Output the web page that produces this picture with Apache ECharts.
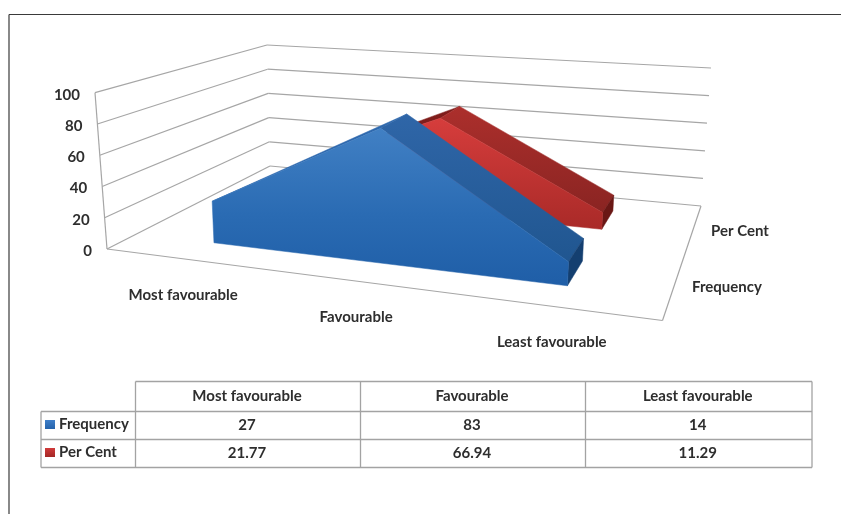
<!DOCTYPE html>
<html>
<head>
<meta charset="utf-8">
<style>html,body{margin:0;padding:0;background:#fff}#chart{width:841px;height:514px}</style>
<script src="https://cdn.jsdelivr.net/npm/echarts@6/dist/echarts.min.js"></script>
</head>
<body>
<div id="chart"></div>
<script>
const categories = ['Most favourable', 'Favourable', 'Least favourable'];
const frequency = [27, 83, 14];
const perCent = [21.77, 66.94, 11.29];
const frequencyLabels = ['27', '83', '14'];
const perCentLabels = ['21.77', '66.94', '11.29'];
const valueTicks = [0, 20, 40, 60, 80, 100];
const FONT = '"Lato","Open Sans",sans-serif';
const TEXT = '#2e2e2e';
const TEXT_FONT = 'bold 15px ' + FONT;

// Box corners on screen: floor plane (value 0) and ceiling plane (value 100).
const floorQuad = [[107, 249], [662.5, 320.5], [701, 206], [270, 166]];
const ceilQuad = [[95, 92.7], [674.5, 134], [711, 68], [267, 45]];

// Unit square -> quadrilateral homography.
function homography(q) {
  const [[x0, y0], [x1, y1], [x2, y2], [x3, y3]] = q;
  const dx1 = x1 - x2, dx2 = x3 - x2, sx = x0 - x1 + x2 - x3;
  const dy1 = y1 - y2, dy2 = y3 - y2, sy = y0 - y1 + y2 - y3;
  const den = dx1 * dy2 - dx2 * dy1;
  const g = (sx * dy2 - dx2 * sy) / den;
  const h = (dx1 * sy - sx * dy1) / den;
  const a = x1 - x0 + g * x1, b = x3 - x0 + h * x3;
  const d = y1 - y0 + g * y1, e = y3 - y0 + h * y3;
  return (u, v) => {
    const w = g * u + h * v + 1;
    return [(a * u + b * v + x0) / w, (d * u + e * v + y0) / w];
  };
}
const onFloor = homography(floorQuad);
const onCeil = homography(ceilQuad);

// u: along categories, v: depth, t: value as a share of the axis range.
function project(u, v, t) {
  const p = onFloor(u, v), q = onCeil(u, v);
  return [p[0] + (q[0] - p[0]) * t, p[1] + (q[1] - p[1]) * t];
}
// Converts a point of the hidden grid into unit coordinates.
function toUnit(pt, cs) {
  return [(pt[0] - cs.x) / cs.width, (cs.y + cs.height - pt[1]) / cs.height];
}
const vGrad = (stops) => new echarts.graphic.LinearGradient(0, 0, 0, 1,
  stops.map(([offset, color]) => ({ offset, color })));
const poly = (points, fill, z2) => ({
  type: 'polygon', z2, shape: { points },
  style: { fill, stroke: fill, lineWidth: 0.5 }
});
const line = (a, b) => ({
  type: 'line', z2: 1,
  shape: { x1: a[0], y1: a[1], x2: b[0], y2: b[1] },
  style: { stroke: '#a6a6a6', lineWidth: 1.2 }
});
const label = (text, x, y, align) => ({
  type: 'text', z2: 2,
  style: { text, x, y, align, verticalAlign: 'middle', fill: TEXT, font: TEXT_FONT }
});

// Draws one extruded area band between depths v0 and v1.
function areaRenderer(values, v0, v1, look) {
  return function (params, api) {
    if (params.dataIndex !== values.length - 1) return { type: 'group', children: [] };
    const cs = params.coordSys;
    const pts = values.map((val, i) => toUnit(api.coord([i, val]), cs));
    const base = toUnit(api.coord([0, 0]), cs)[1];
    const front = pts.map(([u, t]) => project(u, v0, t));
    const back = pts.map(([u, t]) => project(u, v1, t));
    const first = pts[0], last = pts[pts.length - 1];
    const children = [];
    // sloped top: the rising side only shows as a sliver behind the front face
    for (let i = 0; i < pts.length - 1; i++) {
      if (values[i + 1] > values[i]) {
        children.push(poly([front[i], front[i + 1], back[i + 1]], look.rise, 3));
      } else {
        children.push(poly([front[i], front[i + 1], back[i + 1], back[i]], look.fall, 4));
      }
    }
    // end cap
    children.push(poly([front[front.length - 1], back[back.length - 1],
      project(last[0], v1, base), project(last[0], v0, base)], look.cap, 5));
    // front silhouette
    children.push(poly(front.concat([project(last[0], v0, base), project(first[0], v0, base)]),
      look.front, 6));
    return { type: 'group', children };
  };
}

// Walls, floor and every label that sits on them.
function frameRenderer(params, api) {
  if (params.dataIndex !== valueTicks.length - 1) return { type: 'group', children: [] };
  const cs = params.coordSys;
  const children = [];
  valueTicks.forEach((tick) => {
    const t = toUnit(api.coord([0, tick]), cs)[1];
    const a = project(0, 0, t), b = project(0, 1, t), c = project(1, 1, t);
    children.push(line(a, b), line(b, c));
    children.push(label(String(tick), a[0] - 15, a[1] + 2, 'right'));
  });
  const zero = toUnit(api.coord([0, 0]), cs)[1];
  const top = toUnit(api.coord([0, 100]), cs)[1];
  children.push(line(project(0, 0, zero), project(0, 0, top)));
  children.push(line(project(0, 0, zero), project(1, 0, zero)));
  children.push(line(project(1, 0, zero), project(1, 1, zero)));
  categories.forEach((name, i) => {
    const u = toUnit(api.coord([i, 0]), cs)[0];
    const p = project(u, 0, zero);
    children.push(label(name, p[0] - 3, p[1] + 35.5, 'center'));
  });
  [['Frequency', 0.25], ['Per Cent', 0.75]].forEach(([name, v]) => {
    const p = project(1, v, zero);
    children.push(label(name, p[0] + 17.5, p[1] + 2.5, 'left'));
  });
  return { type: 'group', children };
}

// Data table under the plot, with legend keys in its first column.
const colX = [135.5, 360.5, 585.5, 812];
const rowY = [381.5, 411.5, 439.5, 467.5];
const keyX = 41;
const tableLine = (x1, y1, x2, y2) => ({
  type: 'line', shape: { x1, y1, x2, y2 },
  style: { stroke: '#a3a3a3', lineWidth: 1.3 }
});
const cell = (text, x, y, align) => ({
  type: 'text',
  style: { text, x, y, align: align || 'center', verticalAlign: 'middle', fill: TEXT, font: TEXT_FONT }
});
const key = (y, c0, c1) => ({
  type: 'rect', shape: { x: 45, y, width: 10, height: 9 },
  style: { fill: vGrad([[0, c0], [1, c1]]) }
});
const cx = (i) => (colX[i] + colX[i + 1]) / 2;
const rowMid = (r) => (rowY[r] + rowY[r + 1]) / 2;
const tableElements = [
  { type: 'line', shape: { x1: 9, y1: 14.5, x2: 841, y2: 14.5 }, style: { stroke: '#3a3a3a', lineWidth: 1.2 } },
  { type: 'line', shape: { x1: 9, y1: 14.5, x2: 9, y2: 514 }, style: { stroke: '#3a3a3a', lineWidth: 1.2 } },
  tableLine(colX[0], rowY[0], colX[3], rowY[0]),
  tableLine(keyX, rowY[1], colX[3], rowY[1]),
  tableLine(keyX, rowY[2], colX[3], rowY[2]),
  tableLine(keyX, rowY[3], colX[3], rowY[3]),
  tableLine(keyX, rowY[1], keyX, rowY[3]),
  ...colX.map((x) => tableLine(x, rowY[0], x, rowY[3])),
  ...categories.map((c, i) => cell(c, cx(i) - 1, rowMid(0))),
  ...frequencyLabels.map((c, i) => cell(c, cx(i) - 1, rowMid(1))),
  ...perCentLabels.map((c, i) => cell(c, cx(i) - 1, rowMid(2))),
  key(420, '#3f7fc9', '#2563ab'),
  key(448, '#d03a3a', '#a32725'),
  cell('Frequency', 59, rowMid(1) - 1, 'left'),
  cell('Per Cent', 59, rowMid(2) - 1, 'left')
];

const blueLook = {
  front: vGrad([[0, '#4180c4'], [0.55, '#2a6bb3'], [1, '#1f5ea7']]),
  rise: '#2f69ae', fall: vGrad([[0, '#2f66a8'], [1, '#205690']]), cap: '#143f70'
};
const redLook = {
  front: vGrad([[0, '#d63d3c'], [1, '#a92a28']]),
  rise: '#7f1d1b', fall: vGrad([[0, '#ac2f2c'], [1, '#8a2422']]), cap: '#6a1715'
};

const chart = echarts.init(document.getElementById('chart'), null, { renderer: 'canvas' });
chart.setOption({
  backgroundColor: '#ffffff',
  animation: false,
  grid: { left: 0, right: 0, top: 0, bottom: 0 },
  xAxis: { type: 'category', data: categories, show: false },
  yAxis: { type: 'value', min: 0, max: 100, interval: 20, show: false },
  graphic: tableElements,
  series: [
    { type: 'custom', name: 'Axes', z: 1, silent: true,
      data: valueTicks.map((t) => [0, t]), renderItem: frameRenderer },
    { type: 'custom', name: 'Per Cent', z: 2, silent: true,
      data: perCent.map((v, i) => [i, v]), renderItem: areaRenderer(perCent, 0.65, 0.85, redLook) },
    { type: 'custom', name: 'Frequency', z: 3, silent: true,
      data: frequency.map((v, i) => [i, v]), renderItem: areaRenderer(frequency, 0.15, 0.35, blueLook) }
  ]
});
</script>
</body>
</html>
